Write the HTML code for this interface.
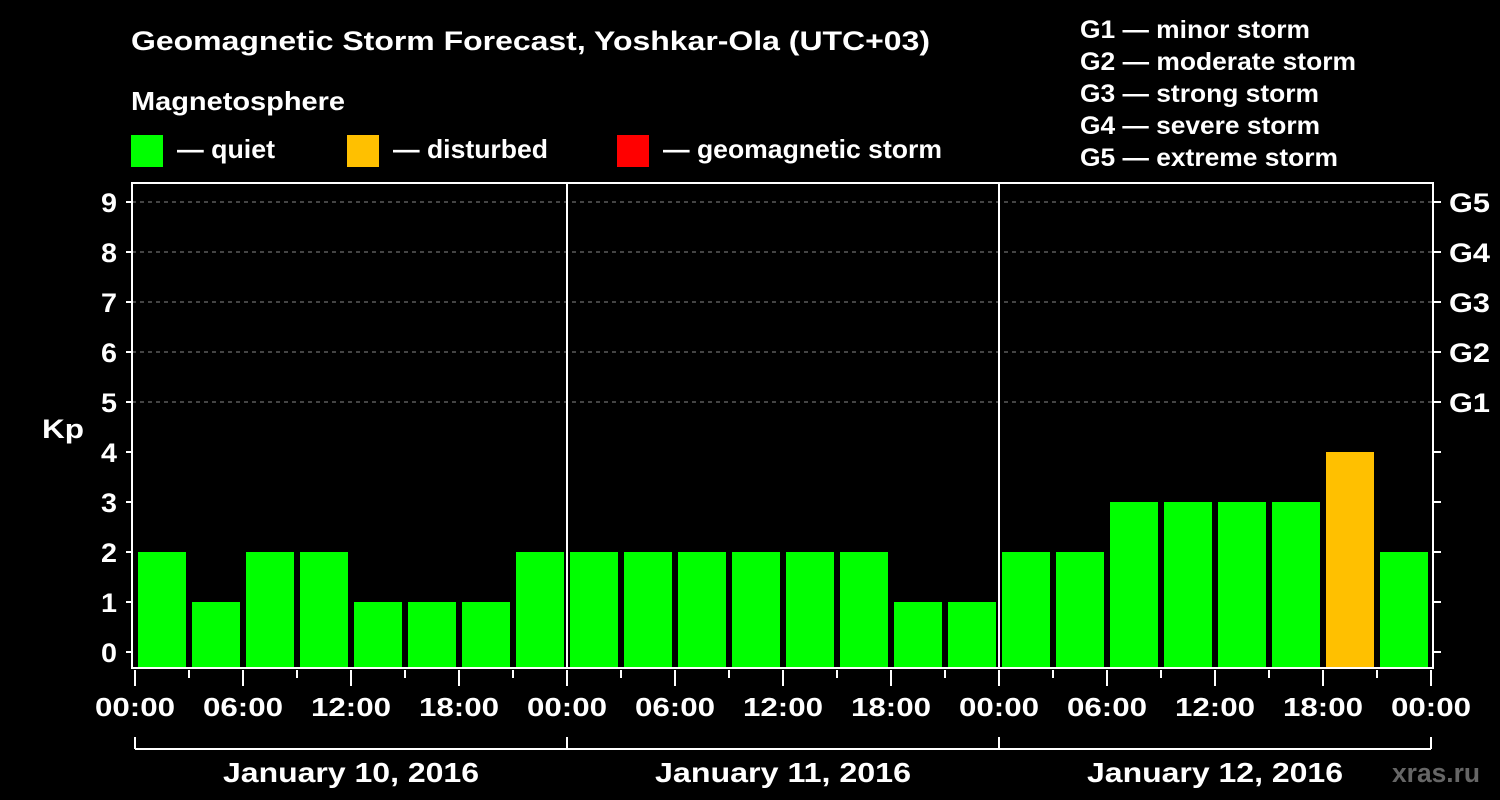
<!DOCTYPE html>
<html><head><meta charset="utf-8"><style>
html,body{margin:0;padding:0;background:#000;}
svg{display:block;font-family:"Liberation Sans",Arial,sans-serif;font-weight:bold;}
</style></head><body>
<svg id="chart" width="1500" height="800" viewBox="0 0 1500 800">
<rect width="1500" height="800" fill="#000"/>
<text x="131" y="50" fill="#fff" font-size="27" textLength="799" lengthAdjust="spacingAndGlyphs">Geomagnetic Storm Forecast, Yoshkar-Ola (UTC+03)</text>
<text x="131" y="110" fill="#fff" font-size="26" textLength="214" lengthAdjust="spacingAndGlyphs">Magnetosphere</text>
<g><rect x="131" y="135" width="32" height="32" fill="#00ff00"/><text x="177" y="158" fill="#fff" font-size="26" textLength="98" lengthAdjust="spacingAndGlyphs">— quiet</text></g>
<g><rect x="347" y="135" width="32" height="32" fill="#ffc000"/><text x="393" y="158" fill="#fff" font-size="26" textLength="155" lengthAdjust="spacingAndGlyphs">— disturbed</text></g>
<g><rect x="617" y="135" width="32" height="32" fill="#ff0000"/><text x="663" y="158" fill="#fff" font-size="26" textLength="279" lengthAdjust="spacingAndGlyphs">— geomagnetic storm</text></g>
<g fill="#fff" font-size="25">
<text x="1080" y="38" textLength="230" lengthAdjust="spacingAndGlyphs">G1 — minor storm</text>
<text x="1080" y="70" textLength="276" lengthAdjust="spacingAndGlyphs">G2 — moderate storm</text>
<text x="1080" y="102" textLength="239" lengthAdjust="spacingAndGlyphs">G3 — strong storm</text>
<text x="1080" y="134" textLength="240" lengthAdjust="spacingAndGlyphs">G4 — severe storm</text>
<text x="1080" y="166" textLength="258" lengthAdjust="spacingAndGlyphs">G5 — extreme storm</text>
</g>
<text x="42" y="438" fill="#fff" font-size="27" textLength="42" lengthAdjust="spacingAndGlyphs">Kp</text>
<text x="1392" y="782" fill="#666" font-size="27" textLength="88" lengthAdjust="spacingAndGlyphs">xras.ru</text>
<g id="grid"></g><g id="bars"></g><g id="axes"></g>
</svg>
<script>
const kpValues=[2,1,2,2,1,1,1,2, 2,2,2,2,2,2,1,1, 2,2,3,3,3,3,4,2];
const dayLabels=["January 10, 2016","January 11, 2016","January 12, 2016"];
const hourLabels=["00:00","06:00","12:00","18:00"];
const gLabels=["G1","G2","G3","G4","G5"];
const NS="http://www.w3.org/2000/svg";
const X0=135,DAYW=432,SLOT=54,L=132,R=1433,T=183,B=668;
const y=v=>652-50*v;
const x=i=>X0+SLOT*i;
function mk(tag,attrs,parent,txt){const e=document.createElementNS(NS,tag);for(const k in attrs)e.setAttribute(k,attrs[k]);if(txt!==undefined)e.textContent=txt;parent.appendChild(e);return e;}
const grid=document.getElementById('grid'),bars=document.getElementById('bars'),axes=document.getElementById('axes');
for(let v=5;v<=9;v++){const g=mk('line',{x1:L,x2:R,y1:y(v),y2:y(v),stroke:'#888','stroke-dasharray':'4,4','stroke-width':1},grid);

}
kpValues.forEach((v,i)=>{const c=v>=5?'#ff0000':(v>=4?'#ffc000':'#00ff00');
const r=mk('rect',{x:x(i)+3,y:y(v),width:48,height:B-y(v),fill:c},bars);

});
const fr=mk('rect',{x:L,y:T,width:R-L,height:B-T,fill:'none',stroke:'#fff','stroke-width':2},axes);


for(let d=1;d<dayLabels.length;d++){const s=mk('line',{x1:X0+DAYW*d,x2:X0+DAYW*d,y1:T,y2:B,stroke:'#fff','stroke-width':2},axes);

}
for(let v=0;v<=9;v++){
mk('line',{x1:126,x2:L,y1:y(v),y2:y(v),stroke:'#fff','stroke-width':2},axes);
mk('line',{x1:R,x2:1441,y1:y(v),y2:y(v),stroke:'#fff','stroke-width':2},axes);
const t=mk('text',{x:117,y:y(v)+10,fill:'#fff','font-size':27,'text-anchor':'end',textLength:16,lengthAdjust:'spacingAndGlyphs'},axes,String(v));

}
gLabels.forEach((g,i)=>{const t=mk('text',{x:1449,y:y(5+i)+10,fill:'#fff','font-size':27,textLength:41,lengthAdjust:'spacingAndGlyphs'},axes,g);

});
for(let i=0;i<=kpValues.length;i++){const long=i%2===0;
mk('line',{x1:x(i),x2:x(i),y1:670,y2:long?686:678,stroke:'#fff','stroke-width':2},axes);
if(long){const t=mk('text',{x:x(i)-40,y:716,fill:'#fff','font-size':26,textLength:80,lengthAdjust:'spacingAndGlyphs'},axes,hourLabels[(i/2)%4]);

}}
mk('line',{x1:X0,x2:X0+DAYW*dayLabels.length,y1:749,y2:749,stroke:'#fff','stroke-width':2},axes);
for(let d=0;d<=dayLabels.length;d++)mk('line',{x1:X0+DAYW*d,x2:X0+DAYW*d,y1:737,y2:749,stroke:'#fff','stroke-width':2},axes);
dayLabels.forEach((l,d)=>{const t=mk('text',{x:X0+DAYW*d+DAYW/2-128,y:782,fill:'#fff','font-size':28,textLength:256,lengthAdjust:'spacingAndGlyphs'},axes,l);

});
</script>
</body></html>
